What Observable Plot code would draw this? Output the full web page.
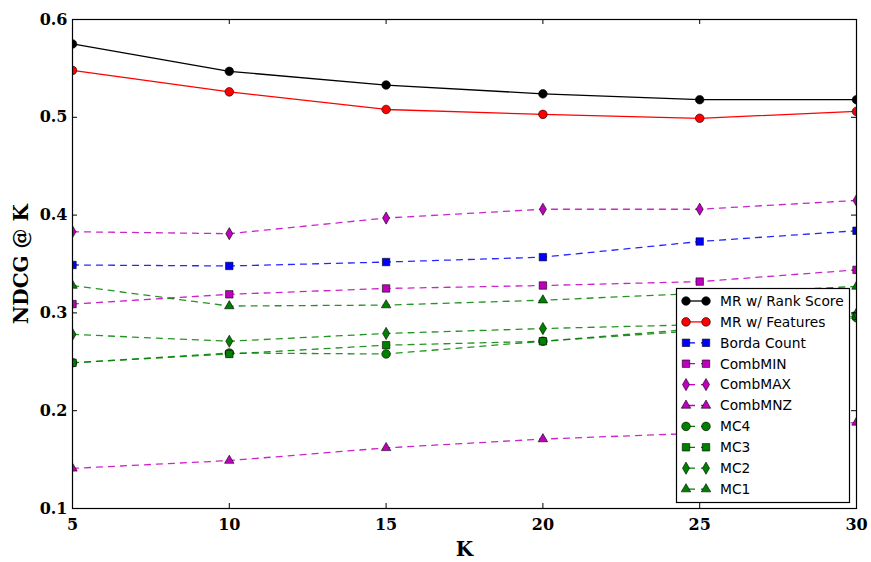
<!DOCTYPE html>
<html><head><meta charset="utf-8">
<script src="https://cdn.jsdelivr.net/npm/d3@7"></script>
<script src="https://cdn.jsdelivr.net/npm/@observablehq/plot@0.6"></script>
<style>body{margin:0;background:#fff}</style>
</head><body><div id="chart"></div>
<script>
// ---- data ----
const ks = [5, 10, 15, 20, 25, 30];
const seriesNames = ["MR w/ Rank Score","MR w/ Features","Borda Count","CombMIN","CombMAX","CombMNZ","MC4","MC3","MC2","MC1"];
const mrRankScore = [0.575, 0.547, 0.533, 0.524, 0.518, 0.518];
const mrFeatures  = [0.548, 0.526, 0.508, 0.503, 0.499, 0.506];
const bordaCount  = [0.349, 0.348, 0.352, 0.357, 0.373, 0.384];
const combMIN     = [0.309, 0.319, 0.325, 0.328, 0.332, 0.344];
const combMAX     = [0.383, 0.381, 0.397, 0.406, 0.406, 0.415];
const combMNZ     = [0.141, 0.149, 0.162, 0.171, 0.177, 0.188];
const mc4         = [0.249, 0.259, 0.258, 0.271, 0.284, 0.295];
const mc3         = [0.249, 0.258, 0.267, 0.271, 0.282, 0.297];
const mc2         = [0.278, 0.271, 0.279, 0.284, 0.288, 0.299];
const mc1         = [0.328, 0.307, 0.308, 0.313, 0.320, 0.327];
const xTicks = [5, 10, 15, 20, 25, 30];
const yTicks = [0.1, 0.2, 0.3, 0.4, 0.5, 0.6];
const xLabel = "K";
const yLabel = "NDCG @ K";

// ---- styles ----
const seriesValues = [mrRankScore, mrFeatures, bordaCount, combMIN, combMAX, combMNZ, mc4, mc3, mc2, mc1];
const MAG = "#bf00bf", GRN = "#008000";
const styles = [
  {color:"#000000", symbol:"circle",   dash:null},
  {color:"#ff0000", symbol:"circle",   dash:null},
  {color:"#0000ff", symbol:"square",   dash:"6,6"},
  {color:MAG,       symbol:"square",   dash:"6,6"},
  {color:MAG,       symbol:"diamond",  dash:"6,6"},
  {color:MAG,       symbol:"triangle", dash:"6,6"},
  {color:GRN,       symbol:"circle",   dash:"6,6"},
  {color:GRN,       symbol:"square",   dash:"6,6"},
  {color:GRN,       symbol:"diamond",  dash:"6,6"},
  {color:GRN,       symbol:"triangle", dash:"6,6"}
];
const symR = {circle:4.3, square:4.2, diamond:3.7, triangle:3.5};
const d3Sym = {circle:d3.symbolCircle, square:d3.symbolSquare, diamond:d3.symbolDiamond, triangle:d3.symbolTriangle};

const rows = seriesNames.map((name, i) => ks.map((k, j) => ({series: name, k, v: seriesValues[i][j]})));

const W = 871, H = 562, mL = 72, mR = 15, mT = 19, mB = 54;
const innerW = W - mL - mR, innerH = H - mT - mB;
const serif = "'DejaVu Serif', serif";

const seriesMarks = [];
rows.forEach((data, i) => {
  const s = styles[i];
  seriesMarks.push(Plot.line(data, {x:"k", y:"v", stroke:s.color, strokeWidth:1.3,
    strokeDasharray: s.dash || undefined, strokeOpacity: s.dash ? 0.85 : 1, clip:true}));
  seriesMarks.push(Plot.dot(data, {x:"k", y:"v", symbol: s.symbol, r: symR[s.symbol],
    fill: s.color, stroke:"#000", strokeWidth:0.6, clip:true}));
});

const chart = Plot.plot({
  width: W, height: H,
  marginLeft: mL, marginRight: mR, marginTop: mT, marginBottom: mB,
  style: {fontFamily: serif, fontWeight: "bold", fontSize: "16px", color: "#000", background: "#fff"},
  x: {domain: [5, 30]},
  y: {domain: [0.1, 0.6]},
  marks: [
    Plot.axisX(xTicks, {tickSize: 0, tickPadding: 10, tickFormat: d => String(d), label: null, fontSize: 16, fontWeight: "bold"}),
    Plot.axisY(yTicks, {tickSize: 0, tickPadding: 5, tickFormat: d => d.toFixed(1), label: null, fontSize: 16, fontWeight: "bold"}),
    Plot.text([xLabel], {frameAnchor: "bottom", dy: 41, lineAnchor: "middle", textAnchor: "middle", text: d => d, fontSize: 20, fontWeight: "bold", fontFamily: serif}),
    Plot.text([yLabel], {frameAnchor: "left", dx: -51, rotate: -90, lineAnchor: "middle", textAnchor: "middle", text: d => d, fontSize: 20, fontWeight: "bold", fontFamily: serif}),
    ...seriesMarks,
    Plot.tickX(xTicks, {x: d => d, insetTop: innerH - 5, stroke: "#000"}),
    Plot.tickX(xTicks, {x: d => d, insetBottom: innerH - 5, stroke: "#000"}),
    Plot.tickY(yTicks, {y: d => d, insetRight: innerW - 5, stroke: "#000"}),
    Plot.tickY(yTicks, {y: d => d, insetLeft: innerW - 5, stroke: "#000"}),
    Plot.frame({stroke: "#000", strokeWidth: 1.2})
  ]
});
document.getElementById("chart").appendChild(chart);

// ---- legend (inside plot, lower right) ----
const svg = d3.select(chart);
const lg = svg.append("g").attr("text-anchor", "start");
lg.append("rect").attr("x", 676.5).attr("y", 288.5).attr("width", 173).attr("height", 214)
  .attr("fill", "#fff").attr("stroke", "#000").attr("stroke-width", 1.2);
seriesNames.forEach((name, i) => {
  const s = styles[i];
  const cy = 301 + i * 20.9;
  lg.append("line").attr("x1", 686).attr("x2", 706).attr("y1", cy).attr("y2", cy)
    .attr("stroke", s.color).attr("stroke-width", 1.3)
    .attr("stroke-dasharray", s.dash || null)
    .attr("stroke-dashoffset", s.dash ? -3 : null);
  const r = symR[s.symbol];
  [686, 706].forEach(x => {
    lg.append("path").attr("d", d3.symbol(d3Sym[s.symbol], r * r * Math.PI)())
      .attr("transform", `translate(${x},${cy})`)
      .attr("fill", s.color).attr("stroke", "#000").attr("stroke-width", 0.6);
  });
  lg.append("text").attr("x", 720).attr("y", cy).attr("dy", "0.35em")
    .attr("text-anchor", "start")
    .attr("font-family", "'DejaVu Sans', sans-serif").attr("font-weight", "normal")
    .attr("font-size", 13.8).attr("fill", "#000").text(name);
});
</script>
</body></html>
